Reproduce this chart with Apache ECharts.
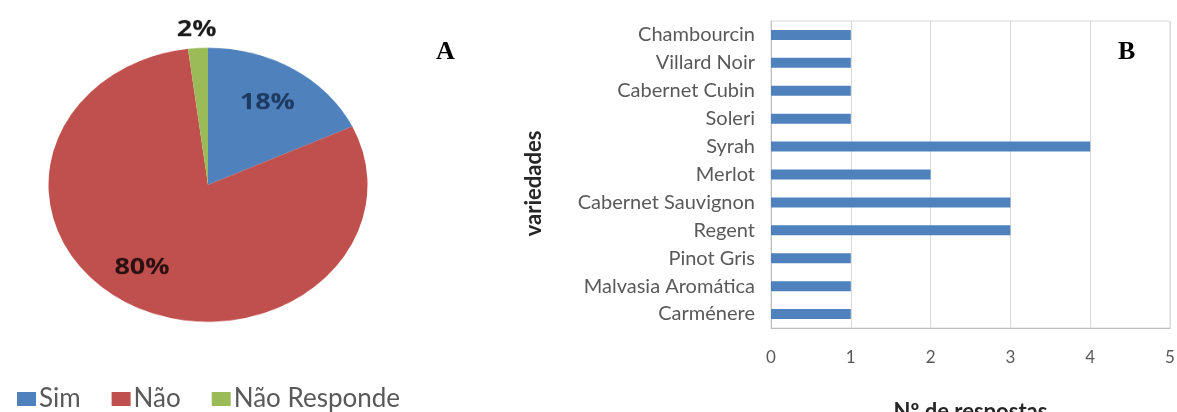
<!DOCTYPE html>
<html><head><meta charset="utf-8">
<script src="https://cdn.jsdelivr.net/npm/echarts@6/dist/echarts.min.js"></script>
<style>
html,body{margin:0;padding:0;background:#fff;}
#main{position:absolute;left:0;top:0;width:1177px;height:412px;}
#pie{position:absolute;left:37.5px;top:13px;width:340px;height:400px;transform:scaleY(0.859);transform-origin:0 0;}
</style></head>
<body>
<div id="main"></div>
<div id="pie"></div>
<script>
// ---- data ----
const pieNames = ['Sim', 'Não', 'Não Responde'];
const pieValues = [18, 80, 2];
const pieColors = ['#4F81BD', '#C0504D', '#9BBB59'];
const pieLabelColors = ['#1F3A60', '#2A1010', '#1A1A1A'];

const varieties = ['Chambourcin', 'Villard Noir', 'Cabernet Cubin', 'Soleri', 'Syrah', 'Merlot',
  'Cabernet Sauvignon', 'Regent', 'Pinot Gris', 'Malvasia Aromática', 'Carménere'];
const responses = [1, 1, 1, 1, 4, 2, 3, 3, 1, 1, 1];
const xTicks = [0, 1, 2, 3, 4, 5];

const pieData = pieNames.map((n, i) => ({name: n, value: pieValues[i], itemStyle: {color: pieColors[i]}}));

// ---- main chart: bars, legend, panel letters ----
const main = echarts.init(document.getElementById('main'));
main.setOption({
  animation: false,
  textStyle: {fontFamily: 'Lato'},
  legend: {
    left: 12, top: 381, itemWidth: 19, itemHeight: 14, itemGap: 31, icon: 'rect',
    data: pieNames,
    textStyle: {fontSize: 26, color: '#595959', fontFamily: 'Lato', padding: [0, 0, 0, -2]}
  },
  graphic: [
    {type: 'text', left: 436, top: 39, style: {text: 'A', font: 'bold 26px "Liberation Serif"', fill: '#000'}},
    {type: 'text', left: 1118, top: 39, style: {text: 'B', font: 'bold 26px "Liberation Serif"', fill: '#000'}}
  ],
  grid: {left: 771, right: 7, top: 21, bottom: 84, show: true, borderColor: '#d9d9d9', borderWidth: 1,
         outerBoundsMode: 'none', containLabel: false},
  xAxis: {
    type: 'value', min: xTicks[0], max: xTicks[xTicks.length - 1], interval: 1,
    name: 'Nº de respostas', nameLocation: 'middle', nameGap: 73,
    nameTextStyle: {fontSize: 22, fontWeight: 'bold', color: '#262626'},
    axisLine: {show: true, lineStyle: {color: '#bfbfbf'}},
    axisTick: {show: false},
    axisLabel: {fontSize: 17, color: '#595959', margin: 21},
    splitLine: {lineStyle: {color: '#d9d9d9'}}
  },
  yAxis: {
    type: 'category', data: varieties, inverse: true,
    name: 'variedades', nameLocation: 'middle', nameGap: 226, nameRotate: 90,
    nameTextStyle: {fontSize: 22, fontWeight: 'bold', color: '#262626', padding: [0, 0, 0, -18]},
    axisLine: {show: true, lineStyle: {color: '#bfbfbf'}},
    axisTick: {show: false},
    axisLabel: {fontSize: 20, color: '#595959', margin: 16}
  },
  series: [
    {type: 'bar', data: responses, barWidth: 10, itemStyle: {color: '#4F81BD'}},
    {type: 'pie', radius: [0, 0], center: [200, 180], data: pieData, label: {show: false}, labelLine: {show: false}, silent: true}
  ]
});

// ---- pie chart (scaled vertically into an ellipse) ----
const pie = echarts.init(document.getElementById('pie'));
const R = 159.5;
const labelFont = {fontSize: 27, fontWeight: 'bold', fontFamily: 'Open Sans'};
const labelOffsets = [[-3, 2], [-10, -6], [0, 0]];
pie.setOption({
  animation: false,
  series: [
    {type: 'pie', center: [170, 200], radius: [0, R], startAngle: 90, clockwise: true,
     data: pieData, label: {show: false}, labelLine: {show: false}, silent: true},
    {type: 'pie', center: [170, 200], radius: [R * 0.42, R], startAngle: 90, clockwise: true, silent: true,
     data: pieNames.map((n, i) => ({name: n, value: pieValues[i], itemStyle: {color: 'rgba(0,0,0,0)'},
       label: {show: i < 2, position: 'inside', formatter: '{d}%', color: pieLabelColors[i], offset: labelOffsets[i], ...labelFont}})),
     labelLine: {show: false}},
    {type: 'pie', center: [170, 200], radius: [R + 6, R + 32], startAngle: 90, clockwise: true, silent: true,
     data: pieNames.map((n, i) => ({name: n, value: pieValues[i], itemStyle: {color: 'rgba(0,0,0,0)'},
       label: {show: i === 2, position: 'inside', formatter: '{d}%', color: pieLabelColors[i], ...labelFont}})),
     labelLine: {show: false}}
  ]
});
</script>
</body></html>
